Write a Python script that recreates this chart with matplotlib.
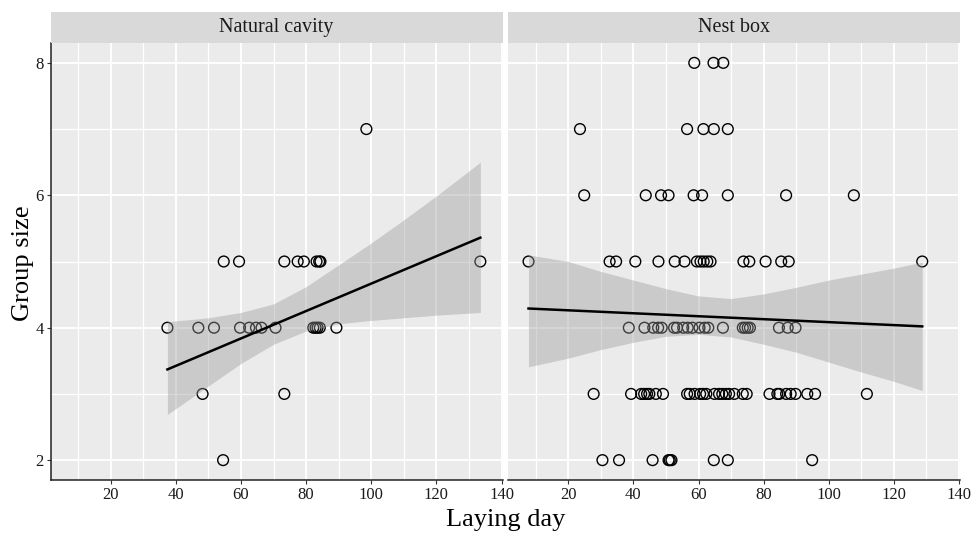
import numpy as np
import matplotlib
matplotlib.use("Agg")
import matplotlib.pyplot as plt

plt.rcParams['font.family'] = ['Liberation Serif', 'DejaVu Serif']

panels = ["Natural cavity", "Nest box"]

# Natural cavity: laying day and group size per nest
nc_day = [54.7, 59.4, 73.3, 77.4, 79.3, 83.2, 84.0, 84.4, 133.5,
          37.4, 46.9, 51.7, 59.7, 62.5, 64.6, 66.3, 70.6, 82.2, 82.9, 83.5, 84.2, 89.3,
          48.2, 73.3, 54.5, 98.5]
nc_size = [5, 5, 5, 5, 5, 5, 5, 5, 5,
           4, 4, 4, 4, 4, 4, 4, 4, 4, 4, 4, 4, 4,
           3, 3, 2, 7]

# Nest box
nb_day = [58.7, 64.6, 67.6,
          23.6, 56.5, 61.5, 64.7, 69.0,
          24.9, 43.8, 48.5, 50.8, 58.5, 61.1, 69.0, 86.9, 107.7,
          7.8, 32.7, 34.7, 40.6, 47.7, 52.7, 55.7, 59.5, 60.6, 61.6, 62.7, 63.7,
          73.8, 75.6, 80.6, 85.4, 87.7, 128.7,
          38.6, 43.4, 46.1, 47.6, 48.7, 52.5, 53.4, 55.3, 56.7, 58.1, 60.3, 61.9, 63.0,
          67.5, 73.6, 74.3, 75.1, 75.8, 84.7, 87.4, 89.8,
          27.8, 39.3, 42.4, 43.3, 44.2, 44.9, 46.9, 49.1, 56.5, 57.3, 58.8, 60.5, 61.4,
          62.4, 64.9, 66.3, 67.3, 68.4, 69.4, 71.0, 73.6, 74.8, 81.8, 84.2, 84.8, 86.9,
          88.3, 89.8, 93.4, 95.8, 111.7,
          30.5, 35.6, 45.9, 50.8, 51.2, 51.7, 64.7, 69.0, 94.9]
nb_size = ([8] * 3 + [7] * 5 + [6] * 9 + [5] * 18 + [4] * 21 + [3] * 31 + [2] * 9)

# fitted lines (end points) and confidence bands
nc_fit_day = [37.4, 133.5]
nc_fit = [3.37, 5.36]
nc_band_day = [37.4, 50, 60, 70, 80, 90, 100, 110, 120, 133.5]
nc_band_lo = [2.69, 3.12, 3.46, 3.75, 3.95, 4.06, 4.11, 4.15, 4.19, 4.23]
nc_band_hi = [4.09, 4.15, 4.23, 4.36, 4.62, 4.95, 5.28, 5.63, 5.99, 6.50]

nb_fit_day = [7.8, 128.7]
nb_fit = [4.29, 4.02]
nb_band_day = [7.8, 20, 30, 40, 50, 60, 70, 80, 90, 100, 110, 120, 128.7]
nb_band_lo = [3.41, 3.54, 3.67, 3.78, 3.87, 3.90, 3.86, 3.75, 3.63, 3.48, 3.33, 3.19, 3.05]
nb_band_hi = [5.10, 5.00, 4.85, 4.72, 4.59, 4.48, 4.44, 4.51, 4.61, 4.72, 4.81, 4.90, 4.99]

x_major = [20, 40, 60, 80, 100, 120, 140]
x_minor = [10, 30, 50, 70, 90, 110, 130]
y_major = [2, 4, 6, 8]
y_minor = [3, 5, 7]

W, H = 971, 533
fig = plt.figure(figsize=(W / 100, H / 100), dpi=100)

panel_x = [50.5, 508]
panel_w = 452
panel_top, panel_bot = 43, 480
strip_top = 12

data = [
    (nc_day, nc_size, nc_fit_day, nc_fit, nc_band_day, nc_band_lo, nc_band_hi),
    (nb_day, nb_size, nb_fit_day, nb_fit, nb_band_day, nb_band_lo, nb_band_hi),
]

for i, (name, d) in enumerate(zip(panels, data)):
    day, size, fday, fit, bday, blo, bhi = d
    ax = fig.add_axes([panel_x[i] / W, 1 - panel_bot / H,
                       panel_w / W, (panel_bot - panel_top) / H])
    ax.set_facecolor('#EBEBEB')
    ax.set_xlim(1.5, 140.3)
    ax.set_ylim(1.7, 8.3)
    ax.set_xticks(x_major)
    ax.set_xticks(x_minor, minor=True)
    ax.set_yticks(y_major)
    ax.set_yticks(y_minor, minor=True)
    ax.grid(which='major', color='white', lw=1.3)
    ax.grid(which='minor', color='white', lw=0.9)
    ax.set_axisbelow(True)
    for s in ['top', 'right']:
        ax.spines[s].set_visible(False)
    ax.spines['bottom'].set_color('#222222')
    ax.spines['bottom'].set_linewidth(1.1)
    ax.tick_params(which='minor', length=0)
    ax.tick_params(which='major', length=3, width=0.8, color='#333333',
                   labelsize=12, labelcolor='#1a1a1a', pad=2)
    if i == 0:
        ax.spines['left'].set_color('#222222')
        ax.spines['left'].set_linewidth(1.1)
    else:
        ax.spines['left'].set_visible(False)
        ax.tick_params(axis='y', which='both', left=False, labelleft=False)

    ax.scatter(day, size, s=60, facecolors='none', edgecolors='black',
               linewidths=1.0, zorder=3)
    ax.fill_between(bday, blo, bhi, color='#999999', alpha=0.4, lw=0, zorder=4)
    ax.plot(fday, fit, color='black', lw=1.8, zorder=5)

    # facet strip
    sax = fig.add_axes([panel_x[i] / W, 1 - panel_top / H,
                        panel_w / W, (panel_top - strip_top) / H])
    sax.set_facecolor('#D9D9D9')
    sax.set_xticks([])
    sax.set_yticks([])
    for s in sax.spines.values():
        s.set_visible(False)
    sax.text(0.5, 0.5, name, ha='center', va='center', fontsize=14.5,
             color='#1a1a1a', transform=sax.transAxes)

fig.text((panel_x[0] + panel_x[1] + panel_w) / 2 / W, 1 - 520 / H, "Laying day",
         ha='center', va='center', fontsize=19)
fig.text(23 / W, 1 - 263 / H, "Group size", ha='center', va='center',
         rotation=90, fontsize=19)

fig.savefig('out.png', dpi=100)
